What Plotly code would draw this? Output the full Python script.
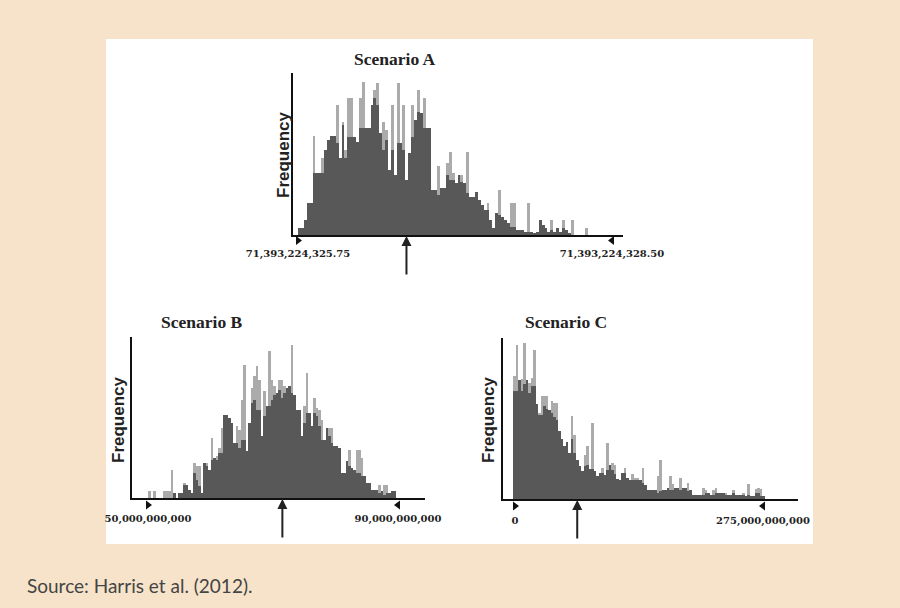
import plotly.graph_objects as go

# ---------------- data (bin heights, arbitrary frequency units) ----------------
A_dark = [7, 7, 15, 32, 32, 62, 62, 62, 62, 85,
          95, 99, 99, 92, 77, 110, 77, 98, 98, 98,
          93, 107, 107, 107, 107, 130, 137, 130, 102, 85,
          95, 65, 85, 60, 92, 92, 85, 55, 82, 98,
          115, 123, 122, 107, 107, 107, 45, 45, 40, 47,
          47, 60, 55, 55, 52, 60, 53, 52, 42, 38,
          38, 43, 35, 30, 25, 25, 15, 7, 22, 20,
          18, 15, 12, 8, 8, 5, 5, 5, 3, 3,
          3, 2, 3, 15, 10, 7, 3, 5, 3, 7,
          3, 7, 5, 2, 0, 0, 0, 0, 0, 0]
A_light = [0, 0, 0, 0, 0, 99, 0, 0, 77, 0,
           0, 0, 0, 130, 0, 113, 85, 137, 137, 0,
           0, 137, 153, 0, 0, 0, 145, 152, 0, 113,
           105, 0, 130, 0, 152, 0, 130, 0, 0, 130,
           0, 145, 0, 137, 0, 0, 0, 0, 69, 0,
           0, 72, 83, 62, 0, 0, 60, 0, 83, 0,
           0, 0, 0, 0, 0, 32, 0, 0, 0, 45,
           0, 0, 0, 32, 32, 0, 0, 0, 0, 32,
           0, 0, 0, 0, 0, 0, 0, 15, 0, 0,
           0, 15, 0, 0, 15, 0, 0, 0, 0, 7]

B_dark = [0, 0, 0, 0, 0, 0, 0, 0, 0, 0,
          5, 0, 5, 5, 13, 13, 8, 5, 25, 18,
          12, 5, 35, 32, 28, 38, 40, 38, 45, 45,
          83, 83, 80, 75, 55, 55, 50, 58, 58, 47,
          75, 95, 98, 88, 88, 62, 82, 92, 92, 98,
          103, 105, 108, 100, 105, 110, 112, 105, 103, 88,
          88, 62, 75, 85, 85, 72, 85, 82, 72, 58,
          58, 70, 62, 55, 52, 52, 50, 25, 25, 37,
          32, 30, 28, 25, 25, 22, 22, 15, 15, 8,
          8, 8, 5, 7, 3, 5, 5, 7, 7, 0]
B_light = [7, 0, 7, 0, 0, 0, 7, 7, 7, 28,
           0, 0, 0, 0, 15, 0, 0, 0, 35, 32,
           32, 0, 35, 35, 0, 60, 0, 42, 50, 70,
           0, 0, 0, 0, 0, 72, 68, 98, 133, 0,
           0, 110, 122, 132, 118, 0, 107, 0, 147, 118,
           112, 0, 118, 118, 112, 0, 0, 153, 0, 0,
           0, 0, 92, 125, 0, 0, 100, 90, 88, 78,
           0, 70, 70, 70, 0, 0, 0, 0, 0, 0,
           48, 0, 0, 48, 48, 40, 0, 0, 0, 0,
           0, 0, 13, 0, 13, 13, 0, 0, 0, 0]

C_dark = [108, 108, 119, 108, 115, 119, 106, 113, 113, 95,
          84, 84, 93, 90, 89, 86, 82, 79, 68, 60,
          53, 57, 46, 60, 46, 39, 33, 28, 33, 34,
          30, 30, 28, 23, 26, 26, 24, 29, 34, 29,
          25, 20, 19, 26, 26, 21, 19, 19, 19, 19,
          19, 16, 14, 9, 9, 9, 9, 6, 8, 9,
          9, 11, 9, 9, 11, 11, 9, 11, 11, 8,
          9, 4, 4, 4, 4, 4, 6, 6, 4, 4,
          6, 6, 6, 6, 4, 4, 4, 6, 4, 4,
          4, 4, 3, 4, 3, 3, 6, 6, 3, 3]
C_light = [123, 154, 0, 120, 156, 0, 116, 121, 149, 0,
           86, 103, 103, 103, 0, 98, 96, 96, 0, 0,
           0, 0, 0, 83, 64, 0, 0, 0, 44, 53,
           0, 76, 0, 0, 0, 31, 0, 56, 0, 36,
           34, 0, 0, 0, 31, 0, 0, 25, 21, 21,
           0, 31, 0, 0, 0, 0, 0, 23, 39, 0,
           0, 0, 23, 15, 0, 0, 21, 0, 0, 16,
           0, 0, 0, 0, 0, 11, 9, 0, 0, 9,
           11, 0, 0, 0, 6, 0, 0, 9, 0, 0,
           0, 6, 0, 15, 0, 0, 10, 11, 10, 0]

titles = ["Scenario A", "Scenario B", "Scenario C"]
A_ticks = [71393224325.75, 71393224328.50]
A_ticktext = ["71,393,224,325.75", "71,393,224,328.50"]
B_ticks = [50e9, 90e9]
B_ticktext = ["50,000,000,000", "90,000,000,000"]
C_ticks = [0, 275e9]
C_ticktext = ["0", "275,000,000,000"]
A_bins = (71393224325.75, 71393224328.29)
B_bins = (50e9, 90e9)
C_bins = (-2.2e9, 277.2e9)
A_mark = 71393224326.70
B_mark = 71.5e9
C_mark = 69e9
source = "Source: Harris et al. (2012)."

# ---------------- figure ----------------
W, H = 900, 608
DARK = "#585858"
LIGHT = "#ababab"
BG = "#f6e3ca"

def fx(p):
    return p / W

def fy(p):
    return 1 - p / H

fig = go.Figure()

panels = [
    dict(dark=A_dark, light=A_light, bins=A_bins, ticks=A_ticks, tt=A_ticktext, mark=A_mark,
         xdom=(293, 623), ydom=(235, 73), t0px=298, t1px=612, tri=(236, 245), tl=8),
    dict(dark=B_dark, light=B_light, bins=B_bins, ticks=B_ticks, tt=B_ticktext, mark=B_mark,
         xdom=(132, 425), ydom=(498, 337), t0px=148, t1px=398, tri=(500, 510), tl=10),
    dict(dark=C_dark, light=C_light, bins=C_bins, ticks=C_ticks, tt=C_ticktext, mark=C_mark,
         xdom=(503, 798), ydom=(499, 338), t0px=515, t1px=763, tri=(501, 511), tl=11),
]

for i, p in enumerate(panels):
    sx = "" if i == 0 else str(i + 1)
    sy = sx
    st = str(i + 4)  # strip y-axis for tick triangles
    n = len(p["dark"])
    lo, hi = p["bins"]
    w = (hi - lo) / n
    xs = [lo + (k + 0.5) * w for k in range(n)]
    fig.add_trace(go.Bar(x=xs, y=p["light"], width=w, marker=dict(color=LIGHT, line=dict(width=0)),
                         xaxis="x" + sx, yaxis="y" + sy, showlegend=False, hoverinfo="skip"))
    fig.add_trace(go.Bar(x=xs, y=p["dark"], width=w, marker=dict(color=DARK, line=dict(width=0)),
                         xaxis="x" + sx, yaxis="y" + sy, showlegend=False, hoverinfo="skip"))
    fig.add_trace(go.Scatter(x=p["ticks"], y=[0.5, 0.5], mode="markers",
                             marker=dict(symbol=["triangle-right", "triangle-left"], size=8, color="#111",
                                         line=dict(width=0)),
                             xaxis="x" + sx, yaxis="y" + st, showlegend=False, hoverinfo="skip",
                             cliponaxis=False))
    u = (p["ticks"][1] - p["ticks"][0]) / (p["t1px"] - p["t0px"])
    xr = [p["ticks"][0] - (p["t0px"] - p["xdom"][0]) * u, p["ticks"][1] + (p["xdom"][1] - p["t1px"]) * u]
    hpx = p["ydom"][0] - p["ydom"][1]
    fig.update_layout(**{
        "xaxis" + sx: dict(domain=[fx(p["xdom"][0]), fx(p["xdom"][1])], range=xr,
                           showline=True, linecolor="#111", linewidth=2, showgrid=False, zeroline=False,
                           tickvals=p["ticks"], ticktext=p["tt"], ticks="outside", ticklen=p["tl"],
                           tickcolor="rgba(0,0,0,0)", automargin=False,
                           tickfont=dict(family="DejaVu Serif", size=10, color="#222", weight="bold"),
                           anchor="y" + sy, fixedrange=True),
        "yaxis" + sy: dict(domain=[fy(p["ydom"][0]), fy(p["ydom"][1])], range=[0, hpx],
                           showline=True, linecolor="#111", linewidth=2, showgrid=False, zeroline=False,
                           showticklabels=False, ticks="", anchor="x" + sx, fixedrange=True,
                           automargin=False),
        "yaxis" + st: dict(domain=[fy(p["tri"][1]), fy(p["tri"][0])], range=[0, 1], visible=False,
                           anchor="x" + sx, fixedrange=True, showgrid=False, zeroline=False),
    })
    fig.add_annotation(x=p["mark"], y=0, xref="x" + sx, yref="y" + sy, ax=0, ay=41,
                       showarrow=True, arrowhead=2, arrowsize=1, arrowwidth=2, arrowcolor="#222",
                       standoff=1, text="")

title_pos = [(395, 59), (202, 322), (566, 322)]
for t, (x, y) in zip(titles, title_pos):
    fig.add_annotation(x=fx(x), y=fy(y), xref="paper", yref="paper", text=t, showarrow=False,
                       font=dict(family="Liberation Serif", size=17.5, color="#222", weight="bold"),
                       xanchor="center", yanchor="middle")

freq_pos = [(284, 155), (118, 420), (488, 420)]
for (x, y) in freq_pos:
    fig.add_annotation(x=fx(x), y=fy(y), xref="paper", yref="paper", text="Frequency", showarrow=False,
                       textangle=-90,
                       font=dict(family="Liberation Sans", size=17, color="#222", weight="bold"),
                       xanchor="center", yanchor="middle")

fig.add_annotation(x=fx(25), y=fy(585), xref="paper", yref="paper", text=source, showarrow=False,
                   font=dict(family="Lato", size=19, color="#444"), xanchor="left", yanchor="middle")

fig.add_shape(type="rect", xref="paper", yref="paper", x0=fx(106), x1=fx(813), y0=fy(544), y1=fy(39),
              fillcolor="white", line=dict(width=0), layer="below")

fig.update_layout(width=W, height=H, margin=dict(l=0, r=0, t=0, b=0, autoexpand=False),
                  paper_bgcolor=BG, plot_bgcolor="rgba(0,0,0,0)",
                  barmode="overlay", bargap=0)

fig.write_html("out.html", config={"displayModeBar": False},
               post_script="document.body.style.margin='0';")
